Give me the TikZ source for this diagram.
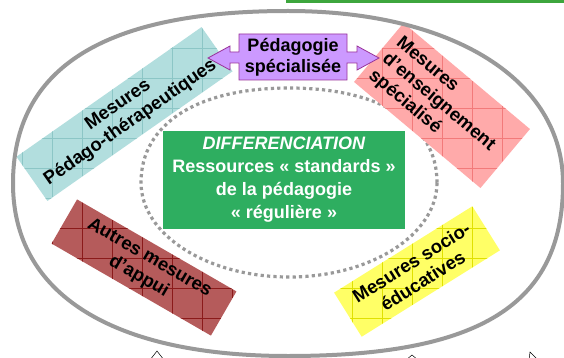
\documentclass[tikz,border=0pt]{standalone}
\usepackage{fontspec}
\setmainfont{Liberation Sans}
\definecolor{tealf}{HTML}{B2DEDE}
\definecolor{tealg}{HTML}{8CC6C6}
\definecolor{pinkf}{HTML}{FFAAAA}
\definecolor{pinkg}{HTML}{F27A7A}
\definecolor{redf}{HTML}{B55B5B}
\definecolor{redg}{HTML}{8B1A1A}
\definecolor{yelf}{HTML}{FFFF66}
\definecolor{yelg}{HTML}{E0E000}
\definecolor{lilac}{HTML}{CC99FF}
\definecolor{lilacd}{HTML}{993399}
\definecolor{diffg}{HTML}{2EAE60}
\definecolor{barg}{HTML}{3DA63D}
\definecolor{ringg}{HTML}{999999}
\newcommand\boxgrid[2]{%
  \begin{scope}
    \clip (#1.north west)--(#1.north east)--(#1.south east)--(#1.south west)--cycle;
    \foreach \g in {-8,22,...,562}{\draw[#2,line width=0.6] (\g,0)--(\g,358);}
    \foreach \g in {-12,18,...,348}{\draw[#2,line width=0.6] (0,\g)--(564,\g);}
  \end{scope}}
\begin{document}
\begin{tikzpicture}[x=1pt,y=-1pt,
  mbox/.style={inner sep=0pt, outer sep=0pt},
  mtext/.style={font=\bfseries\fontsize{18.5}{21.5}\selectfont, inner sep=0pt},
  ring/.style={draw=ringg, line width=4pt},
  dotring/.style={draw=ringg, line width=3.2pt, dash pattern=on 3.2pt off 3.2pt}]
\clip (0,0) rectangle (564,358);
\fill[white] (0,0) rectangle (564,358);
% top green bar
\fill[barg] (286,0) rectangle (564,3);
% inner dotted ring
\path[dotring] (437,182.5) .. controls (437,123.9) and (380.8,88) .. (289,88)
  .. controls (197.2,88) and (141,123.9) .. (141,182.5)
  .. controls (141,234.7) and (207.3,277) .. (289,277)
  .. controls (370.7,277) and (437,234.7) .. (437,182.5) -- cycle;
% teal box
\node[mbox, fill=tealf, rotate=35, minimum width=226, minimum height=54] (teal) at (124.5,114) {};
\boxgrid{teal}{tealg}
\node[mtext, rotate=35, align=center] (tealt) at (teal.center) {Mesures\\Pédago-thérapeutiques};
% pink box
\node[mbox, fill=pinkf, rotate=-40, minimum width=165, minimum height=77] (pink) at (442,105.5) {};
\boxgrid{pink}{pinkg}
\node[mtext, rotate=-40, text width=150, align=left] (pinkt) at (pink.center) {Mesures\\d'enseignement\\spécialisé};
% red box
\node[mbox, fill=redf, rotate=-30, minimum width=184, minimum height=51] (red) at (144,267.5) {};
\boxgrid{red}{redg}
\node[mtext, rotate=-30, align=center] (redt) at (red.center) {Autres mesures\\d'appui};
% yellow box
\node[mbox, fill=yelf, rotate=32, minimum width=163, minimum height=52] (yel) at (417,271.5) {};
\boxgrid{yel}{yelg}
\node[mtext, rotate=32, align=center] (yelt) at (yel.center) {Mesures socio-\\éducatives};
% outer ring
\path[ring] (563,183.5) .. controls (563,80) and (453,11) .. (288,11)
  .. controls (103.7,11) and (13,67.9) .. (13,183.5)
  .. controls (13,293.9) and (112,356) .. (288,356)
  .. controls (480.5,356) and (563,304.3) .. (563,183.5) -- cycle;
% central green box
\node[fill=diffg, minimum width=242, minimum height=98, inner sep=0pt, text=white,
  font=\bfseries\fontsize{18}{23}\selectfont, align=center] (diff) at (284,180)
  {\textit{DIFFERENCIATION}\\Ressources « standards »\\de la pédagogie\\« régulière »};
% double arrow
\filldraw[fill=lilac, draw=lilacd, line width=0.8pt]
  (208,58) -- (230,46) -- (230,52) -- (239,52) -- (239,34) -- (347,34) -- (347,52)
  -- (357,52) -- (357,46) -- (379,58) -- (357,70) -- (357,63) -- (347,63) -- (347,80)
  -- (239,80) -- (239,63) -- (230,63) -- (230,70) -- cycle;
\node[font=\bfseries\fontsize{18}{21}\selectfont, align=center, inner sep=0pt] (pedago) at (293,57.5) {Pédagogie\\spécialisée};
% bottom arrow tips
\filldraw[fill=white, draw=black, line width=0.5pt] (150,360) -- (157,351) -- (164,360);
\filldraw[fill=white, draw=black, line width=0.5pt] (406,360) -- (412,355) -- (418,360);
\filldraw[fill=white, draw=black, line width=0.5pt] (529,360) -- (530,352) -- (538,360);
\end{tikzpicture}
\end{document}
